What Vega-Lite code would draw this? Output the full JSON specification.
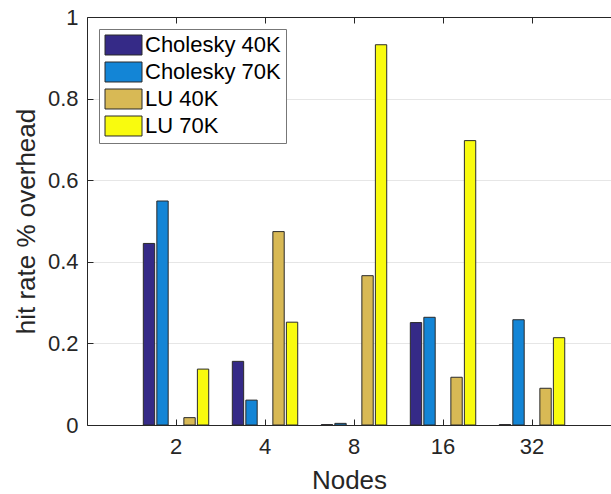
{
  "$schema": "https://vega.github.io/schema/vega-lite/v6.json",
  "width": 524,
  "height": 408,
  "autosize": {"type": "none"},
  "padding": {"left": 87, "top": 17, "right": 0, "bottom": 69},
  "background": "white",
  "config": {
    "view": {"stroke": null},
    "font": "Liberation Sans",
    "axis": {
      "labelFont": "Liberation Sans",
      "titleFont": "Liberation Sans",
      "labelColor": "#262626",
      "titleColor": "#262626",
      "domainColor": "#262626",
      "tickColor": "#262626",
      "titleFontWeight": "normal",
      "labelFontSize": 22,
      "titleFontSize": 26
    },
    "legend": {
      "labelFont": "Liberation Sans"
    }
  },
  "data": {
    "values": [
      {"Nodes": "2", "Series": "Cholesky 40K", "Value": 0.445},
      {"Nodes": "2", "Series": "Cholesky 70K", "Value": 0.549},
      {"Nodes": "2", "Series": "LU 40K", "Value": 0.018},
      {"Nodes": "2", "Series": "LU 70K", "Value": 0.137},
      {"Nodes": "4", "Series": "Cholesky 40K", "Value": 0.156},
      {"Nodes": "4", "Series": "Cholesky 70K", "Value": 0.061},
      {"Nodes": "4", "Series": "LU 40K", "Value": 0.474},
      {"Nodes": "4", "Series": "LU 70K", "Value": 0.252},
      {"Nodes": "8", "Series": "Cholesky 40K", "Value": 0.001},
      {"Nodes": "8", "Series": "Cholesky 70K", "Value": 0.004},
      {"Nodes": "8", "Series": "LU 40K", "Value": 0.366},
      {"Nodes": "8", "Series": "LU 70K", "Value": 0.932},
      {"Nodes": "16", "Series": "Cholesky 40K", "Value": 0.251},
      {"Nodes": "16", "Series": "Cholesky 70K", "Value": 0.264},
      {"Nodes": "16", "Series": "LU 40K", "Value": 0.117},
      {"Nodes": "16", "Series": "LU 70K", "Value": 0.697},
      {"Nodes": "32", "Series": "Cholesky 40K", "Value": 0.001},
      {"Nodes": "32", "Series": "Cholesky 70K", "Value": 0.258},
      {"Nodes": "32", "Series": "LU 40K", "Value": 0.090},
      {"Nodes": "32", "Series": "LU 70K", "Value": 0.214}
    ]
  },
  "resolve": {"axis": {"x": "independent"}},
  "layer": [
    {
      "mark": {"type": "bar", "stroke": "#2a2a2a", "strokeWidth": 1},
      "encoding": {
        "x": {
          "field": "Nodes",
          "type": "ordinal",
          "sort": ["2", "4", "8", "16", "32"],
          "scale": {"paddingInner": 0.265, "paddingOuter": 0.5763, "align": 0.549},
          "axis": {
            "orient": "bottom",
            "title": "Nodes",
            "labelAngle": 0,
            "tickSize": -6,
            "labelPadding": 17,
            "titlePadding": 10,
            "grid": false
          }
        },
        "xOffset": {
          "field": "Series",
          "type": "nominal",
          "scale": {
            "domain": ["Cholesky 40K", "Cholesky 70K", "gap", "LU 40K", "LU 70K"],
            "paddingInner": 0.16,
            "paddingOuter": 0
          }
        },
        "y": {
          "field": "Value",
          "type": "quantitative",
          "scale": {"domain": [0, 1], "nice": false},
          "axis": {
            "title": "hit rate % overhead",
            "values": [0, 0.2, 0.4, 0.6, 0.8, 1],
            "format": ".1~f",
            "tickSize": -6,
            "labelPadding": 15,
            "titlePadding": 8,
            "grid": true,
            "gridColor": "#e6e6e6"
          }
        },
        "color": {
          "field": "Series",
          "type": "nominal",
          "scale": {
            "domain": ["Cholesky 40K", "Cholesky 70K", "LU 40K", "LU 70K"],
            "range": ["#352a87", "#1385d6", "#d8b955", "#f9fb0e"]
          },
          "legend": {
            "title": null,
            "orient": "top-left",
            "offset": 12,
            "fillColor": "white",
            "strokeColor": "#777777",
            "padding": 5,
            "symbolType": "M-0.952,-0.952L2.572,-0.952L2.572,0.952L-0.952,0.952Z",
            "symbolSize": 441,
            "symbolStrokeColor": "#2a2a2a",
            "symbolStrokeWidth": 1,
            "symbolOpacity": 1,
            "labelFontSize": 22,
            "labelColor": "#000000",
            "labelOffset": 19,
            "rowPadding": 3
          }
        }
      }
    },
    {
      "mark": {"type": "rule", "opacity": 0},
      "encoding": {
        "x": {
          "field": "Nodes",
          "type": "ordinal",
          "sort": ["2", "4", "8", "16", "32"],
          "axis": {
            "orient": "top",
            "title": null,
            "labels": false,
            "tickSize": -6,
            "grid": false
          }
        }
      }
    }
  ]
}
